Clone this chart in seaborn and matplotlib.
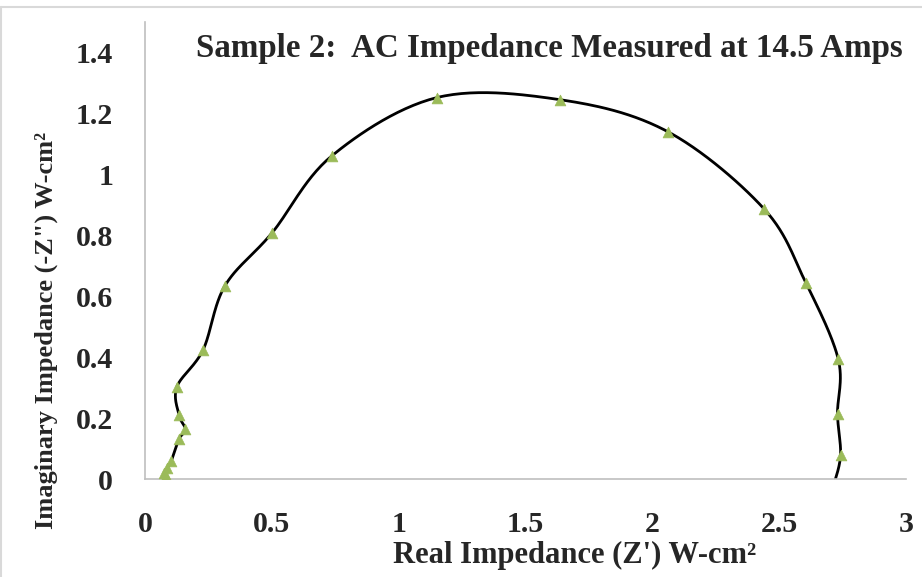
import numpy as np
import matplotlib
matplotlib.use("Agg")
import matplotlib.pyplot as plt
import seaborn as sns
import pandas as pd
from matplotlib.lines import Line2D

# Nyquist data, ordered from low to high frequency
z_real = [2.715, 2.742, 2.730, 2.733, 2.605, 2.440, 2.061, 1.636, 1.151, 0.737,
          0.501, 0.315, 0.229, 0.126, 0.134, 0.159, 0.134, 0.104, 0.087, 0.076,
          0.081, 0.078]
z_imag = [-0.02, 0.078, 0.213, 0.393, 0.644, 0.887, 1.140, 1.245, 1.252, 1.061,
          0.808, 0.634, 0.424, 0.303, 0.210, 0.163, 0.131, 0.060, 0.035, 0.020,
          0.010, 0.004]
x_ticks = [0, 0.5, 1, 1.5, 2, 2.5, 3]
x_tick_labels = ["0", "0.5", "1", "1.5", "2", "2.5", "3"]
y_ticks = [0, 0.2, 0.4, 0.6, 0.8, 1.0, 1.2, 1.4]
y_tick_labels = ["0", "0.2", "0.4", "0.6", "0.8", "1", "1.2", "1.4"]

df = pd.DataFrame({"re": z_real, "im": z_imag})

sns.set_theme(style="white")
plt.rcParams["font.family"] = ["Liberation Serif", "DejaVu Serif"]
plt.rcParams["font.weight"] = "bold"

W, H = 922, 577
fig = plt.figure(figsize=(W / 100, H / 100), dpi=100)
ax = fig.add_axes([145 / W, 1 - 479 / H, (906 - 145) / W, (479 - 22) / H])

ax.set_xlim(0, 3)
ax.set_ylim(0, 1.5)


def smooth_curve(xs, ys, sx, sy, n=30):
    """Catmull-Rom smoothing evaluated in screen-proportional space."""
    P = np.column_stack([np.asarray(xs) * sx, np.asarray(ys) * sy])
    P = np.vstack([P[0], P, P[-1]])
    out = []
    t = np.linspace(0, 1, n)[:, None]
    for i in range(1, len(P) - 2):
        p0, p1, p2, p3 = P[i - 1], P[i], P[i + 1], P[i + 2]
        c1 = p1 + (p2 - p0) / 6
        c2 = p2 - (p3 - p1) / 6
        seg = ((1 - t) ** 3) * p1 + 3 * ((1 - t) ** 2) * t * c1 + 3 * (1 - t) * t ** 2 * c2 + t ** 3 * p2
        out.append(seg if i == 1 else seg[1:])
    out = np.vstack(out)
    return out[:, 0] / sx, out[:, 1] / sy


sx = (906 - 145) / 3.0
sy = (479 - 53) / 1.4
cx, cy = smooth_curve(df["re"], df["im"], sx, sy)
ax.plot(cx, cy, color="black", lw=2.0, zorder=2, solid_capstyle="round")

sns.scatterplot(data=df, x="re", y="im", marker="^", s=60, color="#9bbb59",
                edgecolor="#9bbb59", linewidth=0.5, zorder=3, ax=ax, legend=False)

for side in ("top", "right"):
    ax.spines[side].set_visible(False)
for side in ("left", "bottom"):
    ax.spines[side].set_color("#bfbfbf")
    ax.spines[side].set_linewidth(1.2)

ax.set_xticks(x_ticks)
ax.set_xticklabels(x_tick_labels)
ax.set_yticks(y_ticks)
ax.set_yticklabels(y_tick_labels)
ax.tick_params(axis="both", direction="inout", length=20, width=1.2, color="#bfbfbf",
               labelsize=21.5, pad=13)
for lab in ax.get_xticklabels() + ax.get_yticklabels():
    lab.set_fontweight("bold")
ax.set_xlabel("")
ax.set_ylabel("")

fig.text(903 / W, 1 - 57 / H, "Sample 2:  AC Impedance Measured at 14.5 Amps",
         ha="right", va="baseline", fontsize=23.8, fontweight="bold")
fig.text(575 / W, 1 - 563 / H, "Real Impedance (Z') W-cm²",
         ha="center", va="baseline", fontsize=22, fontweight="bold")
fig.text(46 / W, 1 - 330 / H, "Imaginary Impedance (-Z\") W-cm²",
         ha="center", va="center", rotation=90, fontsize=19, fontweight="bold")

# chart frame
fig.add_artist(Line2D([1 / W, 1], [1 - 7 / H, 1 - 7 / H], color="#d9d9d9", lw=1.5,
                      transform=fig.transFigure))
fig.add_artist(Line2D([1 / W, 1 / W], [0, 1 - 7 / H], color="#d9d9d9", lw=1.5,
                      transform=fig.transFigure))

fig.savefig("out.png", dpi=100)
